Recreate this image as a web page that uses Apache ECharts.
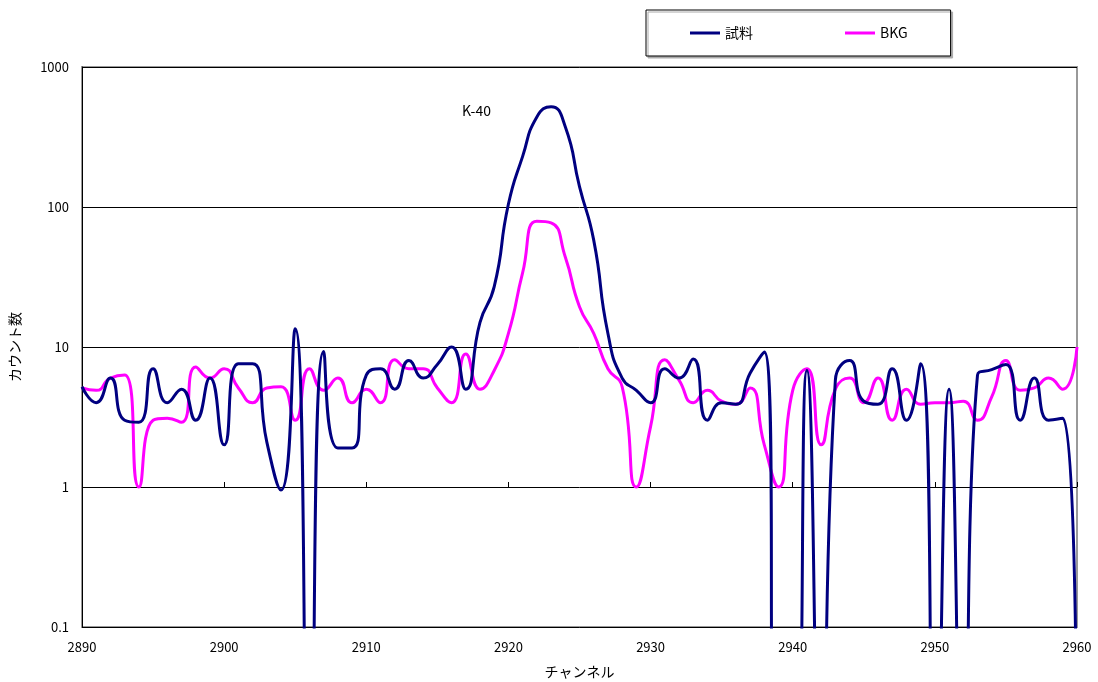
<!DOCTYPE html>
<html>
<head>
<meta charset="utf-8">
<script src="https://cdn.jsdelivr.net/npm/echarts@6/dist/echarts.min.js"></script>
<style>
  html, body { margin: 0; padding: 0; background: #fff; }
  #chart { width: 1098px; height: 682px; }
</style>
</head>
<body>
<div id="chart"></div>
<script>
// channel numbers 2890..2960
var channels = []
for (var c = 2890; c <= 2960; c++) channels.push(c)

// counts (0 = no counts)
var sample = [
  5.2, 4.0, 6.0, 3.0, 2.9, 7.0, 4.0, 5.0, 3.0, 6.0,
  2.0, 7.6, 7.6, 2.1, 0.95, 13.5, 0, 9.3, 1.9, 1.9,
  6.3, 7.0, 5.0, 8.0, 6.0, 7.5, 10, 5.0, 15, 27,
  105, 230, 440, 520, 375, 140, 58, 12.5, 6.0, 4.9,
  4.0, 7.0, 6.0, 8.2, 3.0, 4.0, 3.9, 6.5, 9.2, 0,
  0, 6.8, 0, 5.8, 8.0, 4.1, 3.9, 7.0, 3.0, 7.6,
  0, 5.0, 0, 6.3, 6.9, 7.5, 3.0, 6.0, 3.0, 3.1,
  0
]
var bkg = [
  5.1, 4.9, 6.0, 6.3, 1.0, 3.0, 3.1, 2.9, 7.2, 6.0,
  7.0, 5.1, 4.0, 5.1, 5.2, 3.0, 7.0, 4.9, 6.0, 4.0,
  5.0, 4.0, 8.1, 7.0, 7.0, 5.1, 4.0, 8.9, 5.0, 6.8,
  12.5, 34, 79, 77, 44, 19.4, 12.5, 7.0, 5.2, 1.0,
  2.7, 8.1, 5.8, 4.0, 4.9, 4.1, 3.9, 5.1, 2.0, 1.0,
  4.9, 7.0, 2.0, 5.0, 6.0, 4.0, 6.0, 3.0, 5.0, 3.9,
  4.0, 4.0, 4.1, 3.0, 4.4, 8.0, 4.9, 5.1, 6.0, 5.0,
  10
]
var yTickLabels = ['0.1', '1', '10', '100', '1000']
var seriesNames = ['試料', 'BKG']

// a zero can't sit on a log axis; push it far below the plot so the line drops off
var FLOOR = 0.005
function toPairs(vals) {
  return vals.map(function (v, i) { return [channels[i], v > 0 ? v : FLOOR] })
}

var font = '"Noto Sans CJK JP", "Noto Sans", sans-serif'
var chart = echarts.init(document.getElementById('chart'))
chart.setOption({
  animation: false,
  textStyle: { fontFamily: font },
  legend: {
    data: seriesNames,
    left: 646,
    top: 10,
    padding: [16, 43, 16, 44],
    itemGap: 92,
    itemWidth: 30,
    itemHeight: 3,
    icon: 'rect',
    borderColor: '#000',
    borderWidth: 1,
    backgroundColor: '#fff',
    shadowColor: '#aaa',
    shadowOffsetX: 2,
    shadowOffsetY: 2,
    textStyle: { fontSize: 14, color: '#000', fontFamily: font }
  },
  grid: [
    {
      left: 82, right: 21, top: 67, bottom: 55,
      containLabel: false, outerBoundsMode: 'none',
      show: true, borderColor: '#999', borderWidth: 2
    },
    // overlay grid whose bottom sits on the y=1 line, only for the x ticks
    { left: 82, right: 21, top: 67, height: 420, containLabel: false, outerBoundsMode: 'none' }
  ],
  xAxis: [
    {
      type: 'value',
      min: 2890, max: 2960, interval: 10,
      name: 'チャンネル',
      nameLocation: 'middle',
      nameGap: 38,
      nameTextStyle: { fontSize: 14, color: '#000' },
      axisLine: { show: false },
      axisTick: { show: false },
      splitLine: { show: false },
      axisLabel: {
        fontSize: 13, color: '#000', margin: 14,
        formatter: function (v) { return String(v) }
      }
    },
    {
      type: 'value', gridIndex: 1,
      min: 2890, max: 2960, interval: 10,
      axisLine: { show: false },
      axisLabel: { show: false },
      splitLine: { show: false },
      axisTick: { show: true, inside: true, length: 5, lineStyle: { color: '#000', width: 1 } }
    }
  ],
  yAxis: [
    {
      type: 'log',
      logBase: 10,
      min: 0.1, max: 1000,
      name: 'カウント数',
      nameLocation: 'middle',
      nameGap: 60,
      nameTextStyle: { fontSize: 14, color: '#000' },
      axisLine: { show: true, lineStyle: { color: '#000', width: 1 } },
      axisTick: { show: false },
      splitLine: { show: true, lineStyle: { color: '#000', width: 1 } },
      axisLabel: {
        fontSize: 13, color: '#000', margin: 13,
        formatter: function (v) {
          var i = Math.round(Math.log10(v)) + 1
          return yTickLabels[i] || ''
        }
      }
    },
    { type: 'log', gridIndex: 1, min: 0.1, max: 1, show: false }
  ],
  graphic: [
    {
      type: 'text',
      left: 462, top: 104,
      style: { text: 'K-40', fontSize: 14, fill: '#000', fontFamily: font }
    }
  ],
  series: [
    {
      name: seriesNames[0],
      type: 'line',
      smooth: 0.55,
      symbol: 'none',
      clip: true,
      lineStyle: { color: '#000080', width: 3 },
      itemStyle: { color: '#000080' },
      data: toPairs(sample),
      z: 3
    },
    {
      name: seriesNames[1],
      type: 'line',
      smooth: 0.55,
      symbol: 'none',
      clip: true,
      lineStyle: { color: '#ff00ff', width: 3 },
      itemStyle: { color: '#ff00ff' },
      data: toPairs(bkg),
      z: 2
    }
  ]
})
</script>
</body>
</html>
